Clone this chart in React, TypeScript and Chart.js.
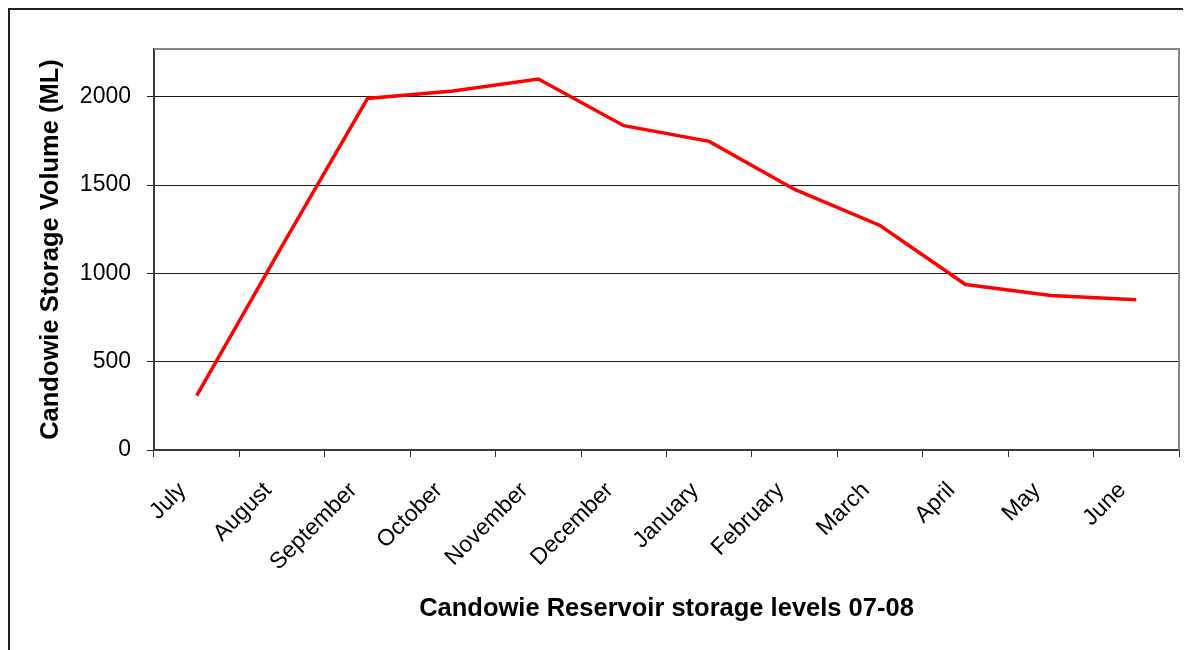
import React, { useEffect, useRef } from "react";
import { Chart, registerables } from "chart.js";

Chart.register(...registerables);

const months = [
  "July", "August", "September", "October", "November", "December",
  "January", "February", "March", "April", "May", "June",
];
const storageML = [308, 1155, 1990, 2032, 2100, 1836, 1747, 1475, 1271, 937, 875, 850];
const yTickValues = [0, 500, 1000, 1500, 2000];
const yMax = 2270;
const xTitle = "Candowie Reservoir storage levels 07-08";
const yTitle = "Candowie Storage Volume (ML)";

const FONT = "'Liberation Sans', Arial, sans-serif";

const plotBorder = {
  id: "plotBorder",
  afterDraw(chart: any) {
    const { ctx, chartArea } = chart;
    ctx.save();
    ctx.strokeStyle = "#868686";
    ctx.lineWidth = 2;
    ctx.beginPath();
    ctx.moveTo(chartArea.left, chartArea.top);
    ctx.lineTo(chartArea.right, chartArea.top);
    ctx.lineTo(chartArea.right, chartArea.bottom);
    ctx.stroke();
    ctx.restore();
  },
};

export default function App() {
  const ref = useRef<HTMLCanvasElement | null>(null);

  useEffect(() => {
    if (!ref.current) return;
    const chart = new Chart(ref.current, {
      type: "line",
      data: {
        labels: months,
        datasets: [
          {
            data: storageML,
            borderColor: "#ff0000",
            borderWidth: 3.5,
            pointRadius: 0,
            tension: 0,
            fill: false,
          },
        ],
      },
      options: {
        animation: false,
        responsive: false,
        devicePixelRatio: 1,
        layout: { padding: { left: 0, right: 12, top: 39, bottom: 0 } },
        plugins: { legend: { display: false }, tooltip: { enabled: false } },
        scales: {
          x: {
            type: "category",
            offset: true,
            grid: {
              offset: true,
              drawOnChartArea: false,
              tickLength: 7,
              color: "#333333",
              lineWidth: 1,
            },
            border: { color: "#3a3a3a", width: 2 },
            ticks: {
              autoSkip: false,
              maxRotation: 45,
              minRotation: 45,
              padding: 20,
              labelOffset: -14,
              color: "#000000",
              font: { family: FONT, size: 23 },
            },
            title: {
              display: true,
              text: xTitle,
              color: "#000000",
              font: { family: FONT, size: 25.5, weight: "bold" },
              padding: { top: 0, bottom: 26 },
            },
            afterFit(scale: any) {
              scale.height = 200;
            },
          },
          y: {
            type: "linear",
            min: 0,
            max: yMax,
            grid: {
              color: "#1a1a1a",
              lineWidth: 1,
              tickLength: 7,
            },
            border: { color: "#3a3a3a", width: 2 },
            ticks: {
              stepSize: 500,
              padding: 16,
              color: "#000000",
              font: { family: FONT, size: 23 },
              callback: (v: any) => String(v),
            },
            afterBuildTicks(scale: any) {
              scale.ticks = yTickValues.map((v) => ({ value: v }));
            },
            title: {
              display: true,
              text: yTitle,
              color: "#000000",
              font: { family: FONT, size: 25.5, weight: "bold" },
              padding: { top: 26, bottom: 0 },
            },
            afterFit(scale: any) {
              scale.width = 144;
            },
          },
        },
      },
      plugins: [plotBorder],
    });
    return () => chart.destroy();
  }, []);

  return (
    <div
      style={{
        position: "relative",
        width: 1183,
        height: 642,
        boxSizing: "border-box",
        borderTop: "2px solid #1e1e1e",
        borderLeft: "2px solid #1e1e1e",
        background: "#ffffff",
      }}
    >
      <canvas
        ref={ref}
        width={1181}
        height={640}
        style={{ position: "absolute", left: 0, top: 0, width: 1181, height: 640 }}
      />
    </div>
  );
}
